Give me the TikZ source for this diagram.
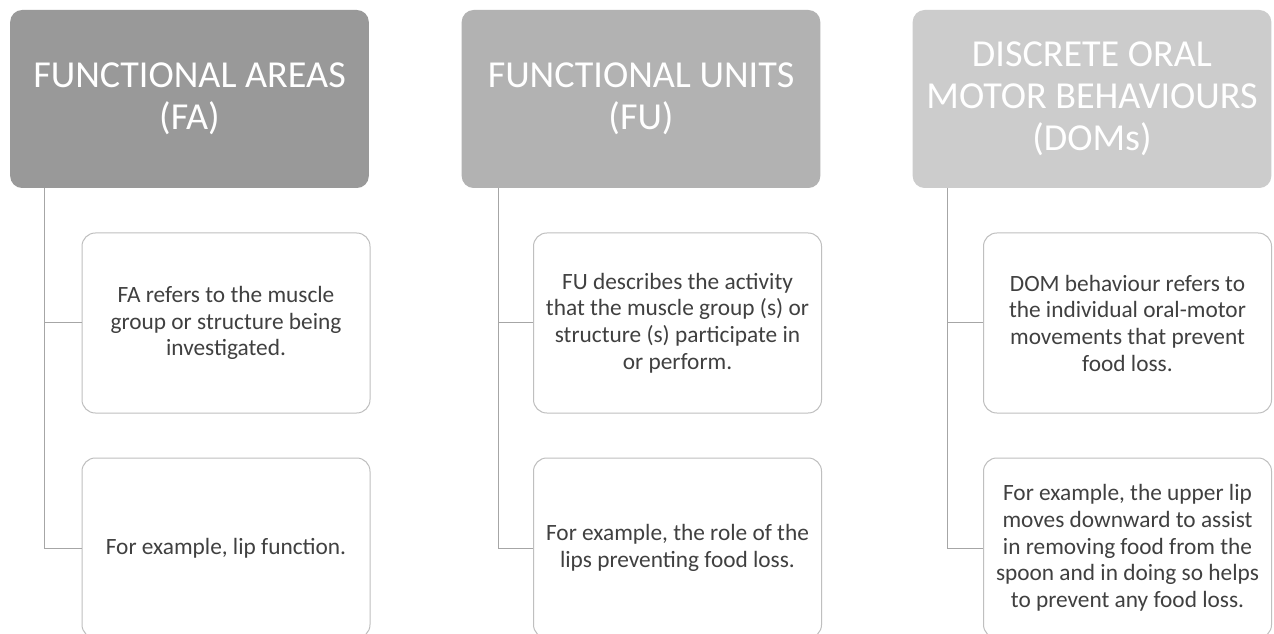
\documentclass[tikz,border=0pt]{standalone}
\usepackage{fontspec}
\setmainfont{Carlito}
\definecolor{hdrdark}{RGB}{153,153,153}
\definecolor{hdrmid}{RGB}{178,178,178}
\definecolor{hdrlight}{RGB}{204,204,204}
\definecolor{boxline}{RGB}{191,191,191}
\definecolor{linkgray}{RGB}{166,166,166}
\definecolor{txtgray}{RGB}{64,64,64}
\tikzset{
  hdr/.style={rounded corners=9pt, minimum width=269pt, minimum height=133.5pt,
    align=center, text=white, inner sep=0pt, font=\fontsize{28.6}{31.5}\selectfont},
  item/.style={draw=boxline, line width=0.75pt, fill=white, rounded corners=10pt,
    minimum width=216pt, minimum height=135pt, align=center, text=txtgray,
    inner sep=0pt, font=\fontsize{17.5}{20}\selectfont},
  link/.style={draw=linkgray, line width=0.75pt}
}
\begin{document}
\begin{tikzpicture}[x=0.75pt,y=0.75pt,yscale=-1,xscale=1]
\clip (0,0) rectangle (1274,634);
\fill[white] (0,0) rectangle (1274,634);

%Headers
\node[hdr, fill=hdrdark] (fa) at (189.5,99) {FUNCTIONAL AREAS\\(FA)};
\node[hdr, fill=hdrmid] (fu) at (641,99) {FUNCTIONAL UNITS\\(FU)};
\node[hdr, fill=hdrlight] (dom) at (1092,99) {DISCRETE ORAL\\MOTOR BEHAVIOURS\\(DOMs)};

%Child boxes
\node[item] (fadef) at (226,323) {FA refers to the muscle\\group or structure being\\investigated.};
\node[item] (faex) at (226,548) {For example, lip function.};
\node[item] (fudef) at (677.5,323) {FU describes the activity\\that the muscle group (s) or\\structure (s) participate in\\or perform.};
\node[item] (fuex) at (677.5,548) {For example, the role of the\\lips preventing food loss.};
\node[item] (domdef) at (1127.5,323) {DOM behaviour refers to\\the individual oral-motor\\movements that prevent\\food loss.};
\node[item] (domex) at (1127.5,548) {For example, the upper lip\\moves downward to assist\\in removing food from the\\spoon and in doing so helps\\to prevent any food loss.};

%Straight Lines
\draw[link] (fa.south west) ++(35,0) |- (fadef.west);
\draw[link] (fa.south west) ++(35,0) |- (faex.west);
\draw[link] (fu.south west) ++(37,0) |- (fudef.west);
\draw[link] (fu.south west) ++(37,0) |- (fuex.west);
\draw[link] (dom.south west) ++(35,0) |- (domdef.west);
\draw[link] (dom.south west) ++(35,0) |- (domex.west);

\end{tikzpicture}
\end{document}
